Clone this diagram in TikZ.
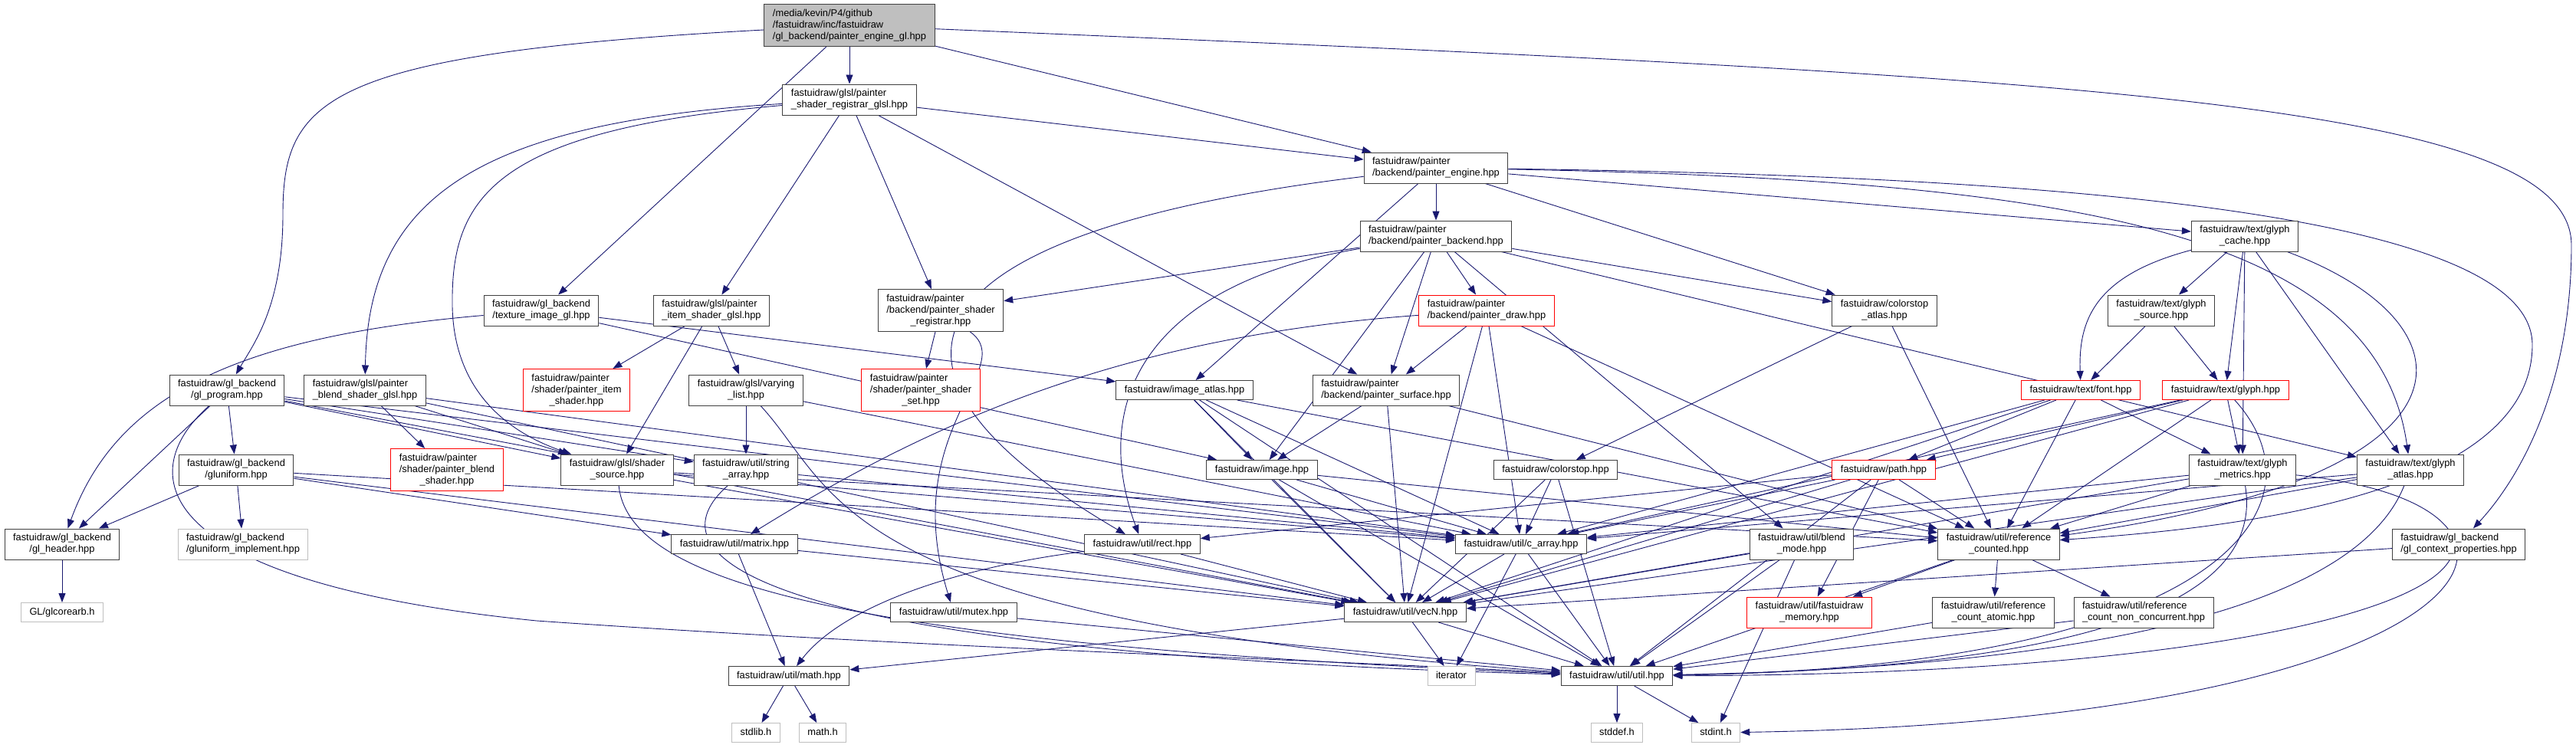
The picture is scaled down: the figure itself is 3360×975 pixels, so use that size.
\documentclass[tikz,border=0pt]{standalone}
\usepackage{fontspec}
\setmainfont{Liberation Sans}
\usepackage{xcolor}
\usepackage{tikz}
\usetikzlibrary{arrows.meta,backgrounds}
\definecolor{navy}{HTML}{191970}
\definecolor{bk75}{HTML}{404040}
\definecolor{grey75}{HTML}{BFBFBF}
\definecolor{docred}{HTML}{FF0000}
\newcommand{\docfont}{\fontsize{12.85}{15}\selectfont}
\newcommand{\lblA}[1]{\begin{tabular}{@{}c@{}}#1\end{tabular}}
\newcommand{\lblB}[2]{\begin{tabular}{@{}l@{}}#1\\\multicolumn{1}{@{}c@{}}{#2}\end{tabular}}
\newcommand{\lblC}[3]{\begin{tabular}{@{}l@{}}#1\\#2\\\multicolumn{1}{@{}c@{}}{#3}\end{tabular}}
\tikzset{
  filebox/.style={
    rectangle, draw=#1, fill=white, line width=1pt,
    font=\docfont, inner xsep=11pt, inner ysep=5pt
  },
  filebox/.default=bk75,
  rootbox/.style={filebox, fill=grey75},
  missbox/.style={filebox=docred},
  sysbox/.style={filebox=grey75},
  dep/.style={
    -{Triangle[length=12pt,width=9pt]}, draw=navy, line width=0.9pt
  },
}

\begin{document}
\begin{tikzpicture}[x=1pt, y=-1pt]
  \useasboundingbox (0,0) rectangle (3360,975);

  % top
  \node[rootbox] (root) at (1108,33) {\lblC{/media/kevin/P4/github}{/fastuidraw/inc/fastuidraw}{/gl\_backend/painter\_engine\_gl.hpp}};
  \node[filebox] (regglsl) at (1108,130) {\lblB{fastuidraw/glsl/painter}{\_shader\_registrar\_glsl.hpp}};
  \node[filebox] (engine) at (1873,219) {\lblB{fastuidraw/painter}{/backend/painter\_engine.hpp}};
  \node[filebox] (backend) at (1873,308) {\lblB{fastuidraw/painter}{/backend/painter\_backend.hpp}};
  \node[filebox] (gcache) at (2928,308) {\lblB{fastuidraw/text/glyph}{\_cache.hpp}};

  % rank 405
  \node[filebox] (teximg) at (706,405) {\lblB{fastuidraw/gl\_backend}{/texture\_image\_gl.hpp}};
  \node[filebox] (itemglsl) at (928,405) {\lblB{fastuidraw/glsl/painter}{\_item\_shader\_glsl.hpp}};
  \node[filebox] (shreg) at (1227,405) {\lblC{fastuidraw/painter}{/backend/painter\_shader}{\_registrar.hpp}};
  \node[missbox] (draw) at (1939,405) {\lblB{fastuidraw/painter}{/backend/painter\_draw.hpp}};
  \node[filebox] (csatlas) at (2458,405) {\lblB{fastuidraw/colorstop}{\_atlas.hpp}};
  \node[filebox] (gsource) at (2819,405) {\lblB{fastuidraw/text/glyph}{\_source.hpp}};

  % rank 509
  \node[filebox] (glprog) at (296,509) {\lblB{fastuidraw/gl\_backend}{/gl\_program.hpp}};
  \node[filebox] (blendglsl) at (476,509) {\lblB{fastuidraw/glsl/painter}{\_blend\_shader\_glsl.hpp}};
  \node[missbox] (itemsh) at (752,509) {\lblC{fastuidraw/painter}{/shader/painter\_item}{\_shader.hpp}};
  \node[filebox] (varying) at (973,509) {\lblB{fastuidraw/glsl/varying}{\_list.hpp}};
  \node[missbox] (shset) at (1201,509) {\lblC{fastuidraw/painter}{/shader/painter\_shader}{\_set.hpp}};
  \node[filebox] (imgatlas) at (1545,509) {\lblA{fastuidraw/image\_atlas.hpp}};
  \node[filebox] (surface) at (1808,509) {\lblB{fastuidraw/painter}{/backend/painter\_surface.hpp}};
  \node[missbox] (font) at (2714,509) {\lblA{fastuidraw/text/font.hpp}};
  \node[missbox] (glyph) at (2903,509) {\lblA{fastuidraw/text/glyph.hpp}};

  % rank 613
  \node[filebox] (gluni) at (308,613) {\lblB{fastuidraw/gl\_backend}{/gluniform.hpp}};
  \node[missbox] (blendsh) at (583,613) {\lblC{fastuidraw/painter}{/shader/painter\_blend}{\_shader.hpp}};
  \node[filebox] (shsrc) at (805,613) {\lblB{fastuidraw/glsl/shader}{\_source.hpp}};
  \node[filebox] (strarr) at (973,613) {\lblB{fastuidraw/util/string}{\_array.hpp}};
  \node[filebox] (image) at (1646,613) {\lblA{fastuidraw/image.hpp}};
  \node[filebox] (colorstop) at (2029,613) {\lblA{fastuidraw/colorstop.hpp}};
  \node[missbox] (path) at (2457,613) {\lblA{fastuidraw/path.hpp}};
  \node[filebox] (gmetrics) at (2925,613) {\lblB{fastuidraw/text/glyph}{\_metrics.hpp}};
  \node[filebox] (gatlas) at (3144,613) {\lblB{fastuidraw/text/glyph}{\_atlas.hpp}};

  % rank 710
  \node[filebox] (glheader) at (81,710) {\lblB{fastuidraw/gl\_backend}{/gl\_header.hpp}};
  \node[sysbox] (gluimpl) at (317,710) {\lblB{fastuidraw/gl\_backend}{/gluniform\_implement.hpp}};
  \node[filebox] (matrix) at (958,710) {\lblA{fastuidraw/util/matrix.hpp}};
  \node[filebox] (rect) at (1490,710) {\lblA{fastuidraw/util/rect.hpp}};
  \node[filebox] (carray) at (1984,710) {\lblA{fastuidraw/util/c\_array.hpp}};
  \node[filebox] (blendmode) at (2350,710) {\lblB{fastuidraw/util/blend}{\_mode.hpp}};
  \node[filebox] (refcnt) at (2607,710) {\lblB{fastuidraw/util/reference}{\_counted.hpp}};
  \node[filebox] (glctx) at (3207,710) {\lblB{fastuidraw/gl\_backend}{/gl\_context\_properties.hpp}};

  % rank 799
  \node[sysbox] (glcore) at (81,799) {\lblA{GL/glcorearb.h}};
  \node[filebox] (mutex) at (1244,799) {\lblA{fastuidraw/util/mutex.hpp}};
  \node[filebox] (vecn) at (1833,799) {\lblA{fastuidraw/util/vecN.hpp}};
  \node[missbox] (fmem) at (2360,799) {\lblB{fastuidraw/util/fastuidraw}{\_memory.hpp}};
  \node[filebox] (rcatomic) at (2600,799) {\lblB{fastuidraw/util/reference}{\_count\_atomic.hpp}};
  \node[filebox] (rcnc) at (2796,799) {\lblB{fastuidraw/util/reference}{\_count\_non\_concurrent.hpp}};

  % bottom
  \node[filebox] (mathhpp) at (1029,882) {\lblA{fastuidraw/util/math.hpp}};
  \node[sysbox] (iterator) at (1893,882) {\lblA{iterator}};
  \node[filebox] (util) at (2109,882) {\lblA{fastuidraw/util/util.hpp}};
  \node[sysbox] (stdlib) at (986,956) {\lblA{stdlib.h}};
  \node[sysbox] (mathh) at (1073,956) {\lblA{math.h}};
  \node[sysbox] (stddef) at (2109,956) {\lblA{stddef.h}};
  \node[sysbox] (stdint) at (2238,956) {\lblA{stdint.h}};

  % includes
  \begin{scope}[on background layer]
    \foreach \t in {regglsl,engine,teximg} \draw[dep] (root) -- (\t);
    \draw[dep] (root) .. controls (420,70) and (369,130) .. (369,280) .. controls (369,400) and (330,450) .. (glprog);
    \draw[dep] (root) .. controls (2700,100) and (3354,130) .. (3354,320) .. controls (3354,500) and (3290,620) .. (glctx);

    \foreach \t in {engine,itemglsl,shreg,surface} \draw[dep] (regglsl) -- (\t);
    \draw[dep] (regglsl) .. controls (620,160) and (480,260) .. (blendglsl);
    \draw[dep] (regglsl) .. controls (640,170) and (588,260) .. (590,400) .. controls (592,500) and (650,560) .. (shsrc);

    \foreach \t in {backend,csatlas,gcache,imgatlas} \draw[dep] (engine) -- (\t);
    \draw[dep] (engine) .. controls (1200,300) and (1080,470) .. (rect);
    \draw[dep] (engine) .. controls (2700,235) and (3100,300) .. (gatlas);
    \draw[dep] (engine) .. controls (2700,230) and (3303,280) .. (3303,450) .. controls (3303,650) and (2900,690) .. (refcnt);

    \foreach \t in {shreg,draw,surface,image,csatlas,gatlas,blendmode} \draw[dep] (backend) -- (\t);
    \draw[dep] (backend) .. controls (1500,370) and (1420,520) .. (rect);

    \foreach \t in {surface,vecn,carray,refcnt} \draw[dep] (draw) -- (\t);
    \draw[dep] (draw) .. controls (1450,440) and (1200,560) .. (matrix);
    \foreach \t in {image,vecn,refcnt} \draw[dep] (surface) -- (\t);

    \foreach \t in {imgatlas,image} \draw[dep] (teximg) -- (\t);
    \draw[dep] (teximg) .. controls (300,440) and (150,520) .. (glheader);

    \foreach \t in {glheader,gluni,shsrc,strarr,carray,vecn} \draw[dep] (glprog) -- (\t);
    \draw[dep] (glprog) .. controls (170,620) and (200,760) .. (700,810) .. controls (1200,845) and (1700,860) .. (util);
    \foreach \t in {glheader,gluimpl,vecn,matrix,carray} \draw[dep] (gluni) -- (\t);
    \draw[dep] (glheader) -- (glcore);

    \foreach \t in {blendsh,shsrc,carray,vecn} \draw[dep] (blendglsl) -- (\t);
    \foreach \t in {itemsh,shsrc,varying} \draw[dep] (itemglsl) -- (\t);
    \foreach \t in {strarr,carray} \draw[dep] (varying) -- (\t);
    \draw[dep] (varying) .. controls (1095,640) and (1080,810) .. (util);
    \draw[dep] (strarr) -- (carray);
    \draw[dep] (strarr) .. controls (850,720) and (950,850) .. (util);
    \foreach \t in {carray,vecn,refcnt} \draw[dep] (shsrc) -- (\t);
    \draw[dep] (shsrc) .. controls (820,760) and (1100,840) .. (util);

    \draw[dep] (shreg) -- (shset);
    \draw[dep] (shreg) .. controls (1330,480) and (1170,560) .. (mutex);

    \foreach \t in {image,vecn,carray,refcnt,util} \draw[dep] (imgatlas) -- (\t);
    \foreach \t in {carray,vecn,util,refcnt} \draw[dep] (image) -- (\t);
    \foreach \t in {colorstop,refcnt} \draw[dep] (csatlas) -- (\t);
    \foreach \t in {carray,vecn,util} \draw[dep] (colorstop) -- (\t);
    \foreach \t in {rect,carray,vecn,refcnt,fmem,util} \draw[dep] (path) -- (\t);

    \foreach \t in {carray,vecn,path,refcnt,gmetrics} \draw[dep] (font) -- (\t);
    \foreach \t in {path,carray,refcnt,vecn,gmetrics} \draw[dep] (glyph) -- (\t);
    \draw[dep] (glyph) .. controls (3040,660) and (2900,870) .. (util);
    \foreach \t in {gsource,glyph,gmetrics,gatlas} \draw[dep] (gcache) -- (\t);
    \draw[dep] (gcache) .. controls (2730,360) and (2711,420) .. (font);
    \draw[dep] (gcache) .. controls (3230,420) and (3260,620) .. (refcnt);
    \foreach \t in {font,glyph} \draw[dep] (gsource) -- (\t);

    \foreach \t in {carray,refcnt,vecn} \draw[dep] (gmetrics) -- (\t);
    \draw[dep] (gmetrics) .. controls (2950,760) and (2800,870) .. (util);
    \draw[dep] (gmetrics) .. controls (3400,660) and (3250,940) .. (stdint);
    \foreach \t in {carray,refcnt,vecn} \draw[dep] (gatlas) -- (\t);
    \draw[dep] (gatlas) .. controls (3070,800) and (2700,870) .. (util);
    \draw[dep] (glctx) -- (vecn);
    \draw[dep] (glctx) .. controls (3150,810) and (2800,880) .. (util);

    \foreach \t in {fmem,rcatomic,rcnc,util} \draw[dep] (refcnt) -- (\t);
    \foreach \s in {rcatomic,rcnc,mutex} \draw[dep] (\s) -- (util);
    \foreach \t in {vecn,util,stdint} \draw[dep] (blendmode) -- (\t);
    \foreach \t in {vecn,iterator,util} \draw[dep] (carray) -- (\t);
    \foreach \t in {iterator,util,mathhpp} \draw[dep] (vecn) -- (\t);
    \draw[dep] (rect) -- (vecn);
    \draw[dep] (rect) .. controls (1250,740) and (1100,790) .. (mathhpp);
    \foreach \t in {mathhpp,vecn} \draw[dep] (matrix) -- (\t);
    \foreach \t in {stdlib,mathh} \draw[dep] (mathhpp) -- (\t);
    \foreach \t in {stddef,stdint} \draw[dep] (util) -- (\t);
  \end{scope}
\end{tikzpicture}
\end{document}
